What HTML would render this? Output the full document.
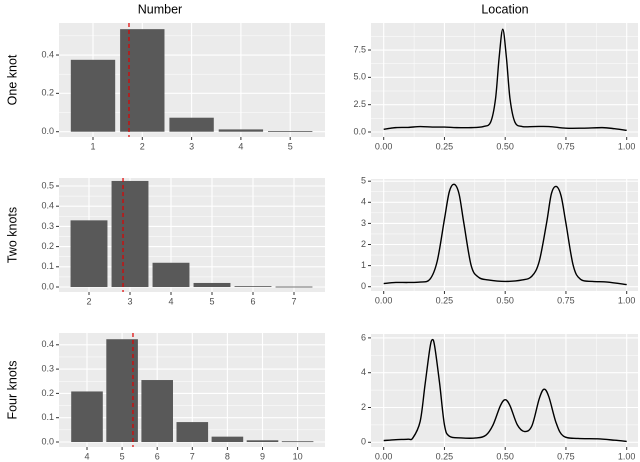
<!DOCTYPE html>
<html><head><meta charset="utf-8"><style>
html,body{margin:0;padding:0;background:#fff;}
svg{display:block;font-family:"Liberation Sans",sans-serif;}
</style></head><body>
<svg id="c" width="640" height="462" viewBox="0 0 640 462">
<text x="160" y="10" text-anchor="middle" font-size="12.5" dominant-baseline="middle">Number</text>
<text x="505" y="10" text-anchor="middle" font-size="12.5" dominant-baseline="middle">Location</text>
<text transform="translate(13,80) rotate(-90)" text-anchor="middle" font-size="12.5" dominant-baseline="middle">One knot</text>
<text transform="translate(13,235) rotate(-90)" text-anchor="middle" font-size="12.5" dominant-baseline="middle">Two knots</text>
<text transform="translate(13,390) rotate(-90)" text-anchor="middle" font-size="12.5" dominant-baseline="middle">Four knots</text>
</svg>
<script>
// Number panels
const cats1 = [1,2,3,4,5];
const probs1 = [0.375,0.535,0.073,0.012,0.003];
const mean1 = 1.73;
const yTicks1 = [0,0.2,0.4];
const yTickLabels1 = ["0.0","0.2","0.4"];
const cats2 = [2,3,4,5,6,7];
const probs2 = [0.33,0.525,0.12,0.02,0.004,0.002];
const mean2 = 2.83;
const yTicks2 = [0,0.1,0.2,0.3,0.4,0.5];
const yTickLabels2 = ["0.0","0.1","0.2","0.3","0.4","0.5"];
const cats3 = [4,5,6,7,8,9,10];
const probs3 = [0.208,0.423,0.255,0.082,0.022,0.007,0.003];
const mean3 = 5.31;
const yTicks3 = [0,0.1,0.2,0.3,0.4];
const yTickLabels3 = ["0.0","0.1","0.2","0.3","0.4"];
// Location densities
const locX1 = [0,0.05,0.1,0.15,0.2,0.25,0.3,0.36,0.41,0.44,0.46,0.475,0.49,0.505,0.52,0.54,0.57,0.62,0.68,0.75,0.82,0.9,0.95,1.0];
const locY1 = [0.25,0.4,0.42,0.5,0.45,0.45,0.4,0.4,0.5,0.9,3.0,6.8,9.4,6.8,3.0,0.9,0.5,0.5,0.5,0.35,0.35,0.4,0.3,0.15];
const locX2 = [0,0.05,0.1,0.15,0.19,0.22,0.25,0.27,0.29,0.31,0.33,0.36,0.39,0.43,0.5,0.57,0.61,0.64,0.67,0.69,0.71,0.73,0.75,0.78,0.81,0.86,0.92,1.0];
const locY2 = [0.15,0.2,0.2,0.22,0.35,1.2,3.2,4.5,4.85,4.4,3.0,1.0,0.45,0.32,0.25,0.32,0.5,1.2,3.0,4.4,4.75,4.3,3.0,1.0,0.35,0.25,0.22,0.1];
const locX3 = [0,0.05,0.1,0.12,0.15,0.17,0.19,0.2,0.21,0.23,0.25,0.27,0.32,0.38,0.42,0.45,0.48,0.5,0.52,0.55,0.58,0.61,0.64,0.66,0.68,0.71,0.74,0.8,0.88,0.95,1.0];
const locY3 = [0.1,0.15,0.18,0.25,1.2,3.3,5.4,5.9,5.5,3.4,1.0,0.35,0.25,0.25,0.4,1.0,2.1,2.45,2.1,1.0,0.62,0.95,2.5,3.05,2.6,1.1,0.35,0.22,0.2,0.12,0.05];
const xTicksLoc = [0,0.25,0.5,0.75,1];
const xTickLabelsLoc = ["0.00","0.25","0.50","0.75","1.00"];
const yTicksLoc1 = [0,2.5,5,7.5];
const yTickLabelsLoc1 = ["0.0","2.5","5.0","7.5"];
const yTicksLoc2 = [0,1,2,3,4,5];
const yTickLabelsLoc2 = ["0","1","2","3","4","5"];
const yTicksLoc3 = [0,2,4,6];
const yTickLabelsLoc3 = ["0","2","4","6"];

const NS="http://www.w3.org/2000/svg";
const svg=document.getElementById('c');
function mk(tag,attrs,parent){const e=document.createElementNS(NS,tag);for(const k in attrs)e.setAttribute(k,attrs[k]);(parent||svg).appendChild(e);return e;}

function panelFrame(g,L,T,R,B,yTicks,yLabels,ys,name){
  const bg=mk('rect',{x:L,y:T,width:R-L,height:B-T,fill:'#ebebeb'},g);
  
  
  // minor y gridlines
  for(let i=0;i<yTicks.length-1;i++){const m=(yTicks[i]+yTicks[i+1])/2;mk('line',{x1:L,x2:R,y1:ys(m),y2:ys(m),stroke:'#fff','stroke-width':0.5},g);}
  const step=yTicks[1]-yTicks[0];
  const extra=yTicks[yTicks.length-1]+step/2; if(ys(extra)>T) mk('line',{x1:L,x2:R,y1:ys(extra),y2:ys(extra),stroke:'#fff','stroke-width':0.5},g);
  yTicks.forEach((v,i)=>{const y=ys(v);
    mk('line',{x1:L,x2:R,y1:y,y2:y,stroke:'#fff','stroke-width':1.1},g);
    mk('line',{x1:L-3,x2:L,y1:y,y2:y,stroke:'#333','stroke-width':1},g);
    const t=mk('text',{x:L-5,y:y,'text-anchor':'end','dominant-baseline':'middle','font-size':9,fill:'#4d4d4d'},g);
    t.textContent=yLabels[i];
    
    
  });
}

function barPanel(cats,probs,mean,yTicks,yLabels,T,B,y0,k,c0,sp,name){
  const g=mk('g',{});
  
  
  const L=59,R=325;
  const ys=v=>y0-v*k;
  const xs=c=>c0+(c-cats[0])*sp;
  panelFrame(g,L,T,R,B,yTicks,yLabels,ys,name);
  cats.forEach(c=>{mk('line',{x1:xs(c),x2:xs(c),y1:T,y2:B,stroke:'#fff','stroke-width':1.1},g);});
  cats.forEach((c,i)=>{
    const w=sp*0.9;
    const r=mk('rect',{x:xs(c)-w/2,y:ys(probs[i]),width:w,height:Math.max(0.8,ys(0)-ys(probs[i])),fill:'#595959'},g);
    
    
    mk('line',{x1:xs(c),x2:xs(c),y1:B,y2:B+3,stroke:'#333','stroke-width':1},g);
    const t=mk('text',{x:xs(c),y:B+10,'text-anchor':'middle','dominant-baseline':'middle','font-size':9,fill:'#4d4d4d'},g);
    t.textContent=c;
    
    
  });
  const m=mk('line',{x1:xs(mean),x2:xs(mean),y1:T,y2:B,stroke:'#e00000','stroke-width':1.2,'stroke-dasharray':'4,3'},g);
  
  
}

function densPanel(xv,yv,yTicks,yLabels,T,B,y0,k,name){
  const g=mk('g',{});
  
  
  const L=371,R=638;
  const ys=v=>y0-v*k;
  const xs=v=>383.7+v*243;
  panelFrame(g,L,T,R,B,yTicks,yLabels,ys,name);
  for(let i=0;i<xTicksLoc.length-1;i++){const m=xs((xTicksLoc[i]+xTicksLoc[i+1])/2);mk('line',{x1:m,x2:m,y1:T,y2:B,stroke:'#fff','stroke-width':0.5},g);}
  xTicksLoc.forEach((v,i)=>{const x=xs(v);
    mk('line',{x1:x,x2:x,y1:T,y2:B,stroke:'#fff','stroke-width':1.1},g);
    mk('line',{x1:x,x2:x,y1:B,y2:B+3,stroke:'#333','stroke-width':1},g);
    const t=mk('text',{x:x,y:B+10,'text-anchor':'middle','dominant-baseline':'middle','font-size':9,fill:'#4d4d4d'},g);
    t.textContent=xTickLabelsLoc[i];
    
    
  });
  const P=xv.map((x,i)=>[xs(x),ys(yv[i])]);
  let d='M'+P[0][0]+','+P[0][1];
  for(let i=0;i<P.length-1;i++){
    const p0=P[Math.max(0,i-1)],p1=P[i],p2=P[i+1],p3=P[Math.min(P.length-1,i+2)];
    const c1=[p1[0]+(p2[0]-p0[0])/6,p1[1]+(p2[1]-p0[1])/6];
    const c2=[p2[0]-(p3[0]-p1[0])/6,p2[1]-(p3[1]-p1[1])/6];
    d+=' C'+c1[0]+','+c1[1]+' '+c2[0]+','+c2[1]+' '+p2[0]+','+p2[1];
  }
  const path=mk('path',{d:d,fill:'none',stroke:'#000','stroke-width':1.4},g);
  
  
}

barPanel(cats1,probs1,mean1,yTicks1,yTickLabels1,23,137,131.7,191.7,93,49.3,'one-knot-number-panel');
barPanel(cats2,probs2,mean2,yTicks2,yTickLabels2,178,292,287,202,89,41,'two-knots-number-panel');
barPanel(cats3,probs3,mean3,yTicks3,yTickLabels3,333,447,442,243,87,35.1,'four-knots-number-panel');
densPanel(locX1,locY1,yTicksLoc1,yTickLabelsLoc1,23,137,132,10.93,'one-knot-location-panel');
densPanel(locX2,locY2,yTicksLoc2,yTickLabelsLoc2,179,291,286.7,21.1,'two-knots-location-panel');
densPanel(locX3,locY3,yTicksLoc3,yTickLabelsLoc3,334,447,442.3,17.4,'four-knots-location-panel');
</script>
</body></html>
